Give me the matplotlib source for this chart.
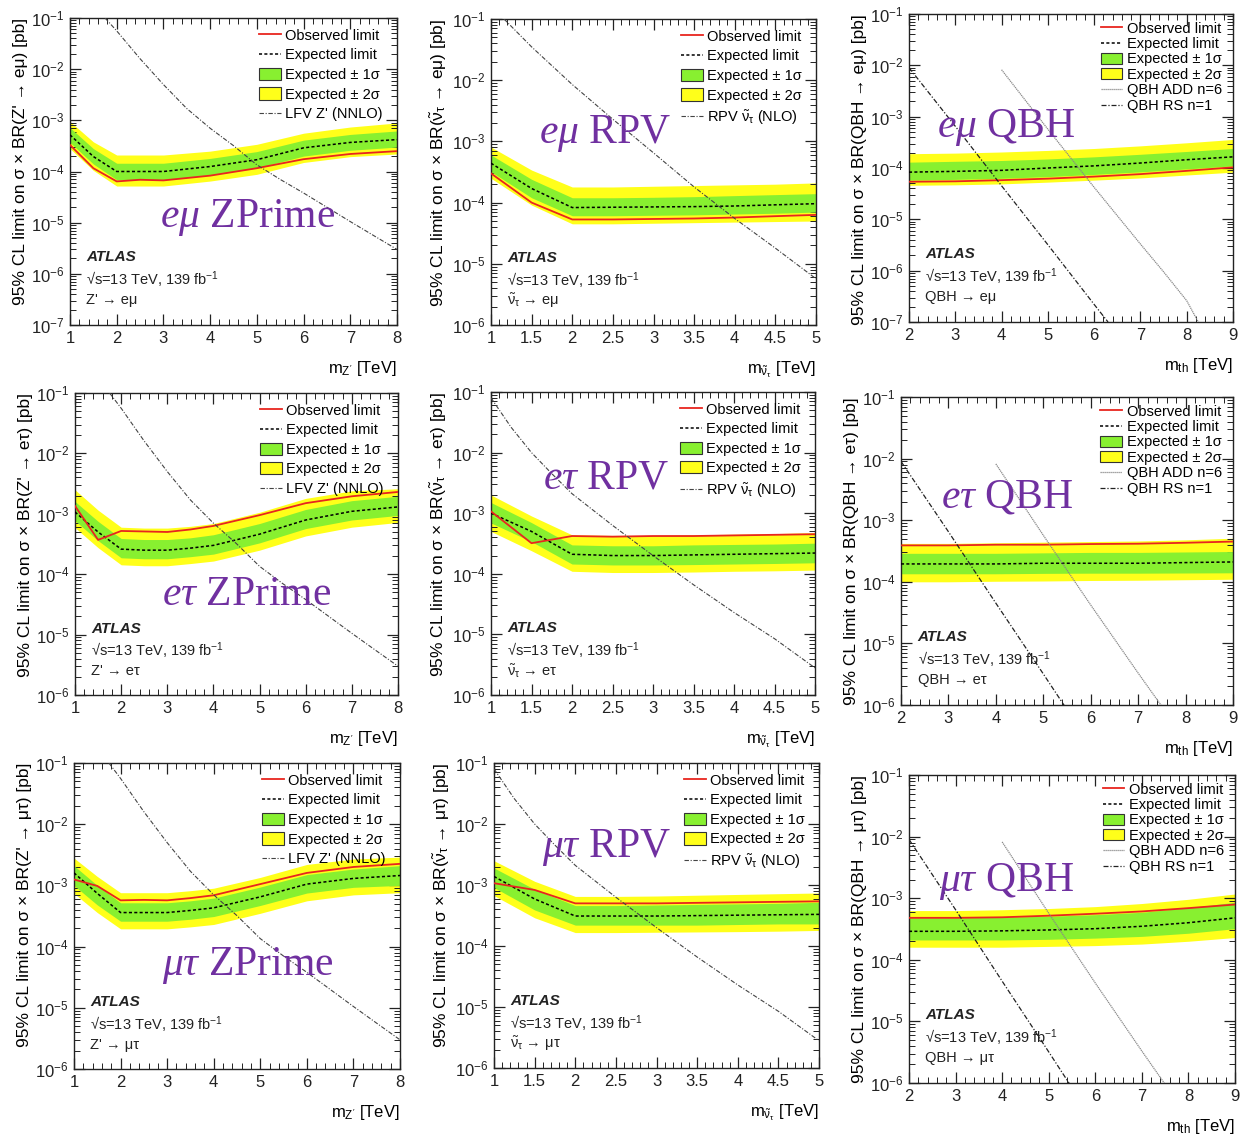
import numpy as np
import matplotlib
matplotlib.use('Agg')
import matplotlib.pyplot as plt
from matplotlib.lines import Line2D
from matplotlib.patches import Patch
from matplotlib.ticker import LogLocator, MultipleLocator, NullFormatter

plt.rcParams['font.family'] = ['Liberation Sans', 'DejaVu Sans']
plt.rcParams['mathtext.fontset'] = 'custom'
plt.rcParams['mathtext.rm'] = 'Liberation Sans'
plt.rcParams['mathtext.it'] = 'Liberation Serif:italic'
plt.rcParams['mathtext.bf'] = 'Liberation Sans:bold'

# ---------------- data ----------------
# theory curves
lfv_x = [1.75, 2, 2.5, 3, 3.5, 4, 4.5, 5, 5.5, 6, 6.5, 7, 7.5, 8]
lfv_y = [1.0e-1, 5.6e-2, 1.6e-2, 5.0e-3, 1.7e-3, 7.0e-4, 3.2e-4, 1.35e-4, 7.0e-5, 3.8e-5, 2.0e-5, 1.05e-5, 5.6e-6, 3.0e-6]

rpv_em_x = [1.16, 1.5, 2, 2.5, 3, 3.5, 4, 4.5, 5]
rpv_em_y = [1e-1, 3.5e-2, 8.5e-3, 2.3e-3, 6.5e-4, 1.8e-4, 5.5e-5, 1.8e-5, 5.7e-6]
rpv_tau_x = [1, 1.25, 1.5, 1.75, 2, 2.5, 3, 3.5, 4, 4.5, 5]
rpv_tau_y = [8e-2, 2.6e-2, 1.0e-2, 4.5e-3, 2.1e-3, 6.3e-4, 2.0e-4, 6.6e-5, 2.3e-5, 8.5e-6, 2.8e-6]

qbh_rs_x = [2, 3, 4, 5, 6, 6.3]
qbh_rs_y = [9e-3, 6.5e-4, 4.5e-5, 3.2e-6, 2.2e-7, 1e-7]
qbh_add_x = [4, 5, 6, 7, 7.5, 8, 8.25]
qbh_add_y = [8.2e-3, 5.7e-4, 4.2e-5, 3.3e-6, 9.5e-7, 2.6e-7, 1e-7]

# e-mu Z'
zp_em_x = [1, 1.5, 2, 2.5, 3, 4, 5, 6, 7, 8]
zp_em_obs = [3.3e-4, 1.16e-4, 6.4e-5, 6.9e-5, 6.7e-5, 8.3e-5, 1.16e-4, 1.74e-4, 2.2e-4, 2.5e-4]
zp_em_exp = [5.2e-4, 1.96e-4, 1.0e-4, 1.0e-4, 1.0e-4, 1.25e-4, 1.7e-4, 2.9e-4, 3.7e-4, 4.2e-4]
zp_em_p2 = [9.5e-4, 3.8e-4, 2.1e-4, 2.1e-4, 2.1e-4, 2.5e-4, 3.4e-4, 5.6e-4, 7.4e-4, 8.9e-4]
zp_em_p1 = [7.2e-4, 2.8e-4, 1.45e-4, 1.45e-4, 1.45e-4, 1.8e-4, 2.45e-4, 4.1e-4, 5.3e-4, 6.2e-4]
zp_em_m1 = [3.7e-4, 1.4e-4, 6.9e-5, 6.9e-5, 6.9e-5, 8.6e-5, 1.17e-4, 2.0e-4, 2.6e-4, 3.0e-4]
zp_em_m2 = [2.8e-4, 1.05e-4, 5.2e-5, 5.2e-5, 5.2e-5, 6.5e-5, 8.8e-5, 1.5e-4, 1.95e-4, 2.2e-4]

# e-mu RPV
rpv_em_mx = [1, 1.5, 2, 2.5, 3, 3.5, 4, 4.5, 5]
rpv_em_obs = [3.0e-4, 1.0e-4, 5.3e-5, 5.3e-5, 5.4e-5, 5.5e-5, 5.7e-5, 6.0e-5, 6.3e-5]
rpv_em_exp = [4.4e-4, 1.7e-4, 8.3e-5, 8.4e-5, 8.5e-5, 8.6e-5, 8.8e-5, 9.2e-5, 9.6e-5]
rpv_em_p2 = [8.1e-4, 3.4e-4, 1.8e-4, 1.8e-4, 1.85e-4, 1.9e-4, 1.95e-4, 2.0e-4, 2.1e-4]
rpv_em_p1 = [6.0e-4, 2.4e-4, 1.2e-4, 1.2e-4, 1.22e-4, 1.25e-4, 1.3e-4, 1.35e-4, 1.4e-4]
rpv_em_m1 = [3.2e-4, 1.2e-4, 6.1e-5, 6.1e-5, 6.2e-5, 6.3e-5, 6.5e-5, 6.7e-5, 7.0e-5]
rpv_em_m2 = [2.5e-4, 9.1e-5, 4.5e-5, 4.5e-5, 4.6e-5, 4.7e-5, 4.8e-5, 4.9e-5, 5.0e-5]

# e-mu QBH
qbh_em_x = [2, 3, 4, 5, 6, 7, 8, 9]
qbh_em_obs = [5.4e-5, 5.5e-5, 5.8e-5, 6.2e-5, 6.8e-5, 7.6e-5, 8.8e-5, 1.03e-4]
qbh_em_exp = [8.3e-5, 8.6e-5, 9.0e-5, 1.0e-4, 1.1e-4, 1.25e-4, 1.45e-4, 1.65e-4]
qbh_em_p2 = [1.9e-4, 1.95e-4, 2.05e-4, 2.2e-4, 2.4e-4, 2.7e-4, 3.1e-4, 3.6e-4]
qbh_em_p1 = [1.3e-4, 1.35e-4, 1.4e-4, 1.5e-4, 1.65e-4, 1.85e-4, 2.1e-4, 2.4e-4]
qbh_em_m1 = [5.8e-5, 6.0e-5, 6.3e-5, 6.8e-5, 7.5e-5, 8.4e-5, 9.6e-5, 1.1e-4]
qbh_em_m2 = [4.6e-5, 4.7e-5, 4.9e-5, 5.3e-5, 5.8e-5, 6.4e-5, 7.3e-5, 8.3e-5]

# e-tau Z'
zp_et_x = [1, 1.5, 2, 2.5, 3, 3.5, 4, 5, 6, 7, 8]
zp_et_obs = [1.35e-3, 3.7e-4, 5.2e-4, 5.1e-4, 5.0e-4, 5.5e-4, 6.3e-4, 9.5e-4, 1.5e-3, 1.95e-3, 2.3e-3]
zp_et_exp = [1.07e-3, 5.0e-4, 2.6e-4, 2.5e-4, 2.5e-4, 2.7e-4, 3.0e-4, 4.6e-4, 7.9e-4, 1.1e-3, 1.3e-3]
zp_et_p2 = [2.5e-3, 1.15e-3, 6.0e-4, 5.8e-4, 5.8e-4, 6.2e-4, 6.9e-4, 1.06e-3, 1.8e-3, 2.4e-3, 2.6e-3]
zp_et_p1 = [1.6e-3, 7.5e-4, 3.9e-4, 3.75e-4, 3.75e-4, 4.0e-4, 4.5e-4, 6.9e-4, 1.18e-3, 1.65e-3, 1.95e-3]
zp_et_m1 = [7.7e-4, 3.6e-4, 1.87e-4, 1.8e-4, 1.8e-4, 1.95e-4, 2.15e-4, 3.3e-4, 5.7e-4, 7.9e-4, 9.4e-4]
zp_et_m2 = [5.9e-4, 2.75e-4, 1.43e-4, 1.38e-4, 1.38e-4, 1.5e-4, 1.65e-4, 2.5e-4, 4.3e-4, 6.0e-4, 7.2e-4]

# e-tau RPV
rpv_et_x = [1, 1.5, 2, 2.5, 3, 3.5, 4, 4.5, 5]
rpv_et_obs = [1.07e-3, 3.2e-4, 4.2e-4, 4.1e-4, 4.2e-4, 4.2e-4, 4.3e-4, 4.4e-4, 4.5e-4]
rpv_et_exp = [1.0e-3, 5.0e-4, 2.1e-4, 2.0e-4, 2.0e-4, 2.05e-4, 2.1e-4, 2.15e-4, 2.2e-4]
rpv_et_p2 = [2.0e-3, 9.0e-4, 4.4e-4, 4.3e-4, 4.3e-4, 4.4e-4, 4.5e-4, 4.6e-4, 4.8e-4]
rpv_et_p1 = [1.5e-3, 7.0e-4, 3.0e-4, 2.9e-4, 2.9e-4, 3.0e-4, 3.05e-4, 3.1e-4, 3.2e-4]
rpv_et_m1 = [6.9e-4, 3.4e-4, 1.45e-4, 1.4e-4, 1.4e-4, 1.42e-4, 1.45e-4, 1.48e-4, 1.52e-4]
rpv_et_m2 = [5.0e-4, 2.4e-4, 1.1e-4, 1.05e-4, 1.05e-4, 1.07e-4, 1.1e-4, 1.12e-4, 1.15e-4]

# e-tau QBH
qbh_et_x = [2, 3, 4, 5, 6, 7, 8, 9]
qbh_et_obs = [3.9e-4, 3.9e-4, 4.0e-4, 4.0e-4, 4.1e-4, 4.15e-4, 4.3e-4, 4.5e-4]
qbh_et_exp = [1.95e-4, 1.95e-4, 1.95e-4, 2.0e-4, 2.0e-4, 2.0e-4, 2.05e-4, 2.1e-4]
qbh_et_p2 = [4.2e-4, 4.2e-4, 4.3e-4, 4.4e-4, 4.5e-4, 4.6e-4, 4.8e-4, 5.1e-4]
qbh_et_p1 = [2.9e-4, 2.9e-4, 2.9e-4, 2.95e-4, 3.0e-4, 3.0e-4, 3.05e-4, 3.1e-4]
qbh_et_m1 = [1.35e-4, 1.35e-4, 1.35e-4, 1.37e-4, 1.38e-4, 1.38e-4, 1.39e-4, 1.4e-4]
qbh_et_m2 = [1.0e-4, 1.0e-4, 1.02e-4, 1.03e-4, 1.05e-4, 1.06e-4, 1.08e-4, 1.1e-4]

# mu-tau Z'
zp_mt_x = [1, 1.5, 2, 2.5, 3, 3.5, 4, 5, 6, 7, 8]
zp_mt_obs = [1.25e-3, 9.8e-4, 5.7e-4, 5.8e-4, 5.7e-4, 6.2e-4, 6.9e-4, 1.05e-3, 1.6e-3, 2.0e-3, 2.25e-3]
zp_mt_exp = [1.6e-3, 7.4e-4, 3.6e-4, 3.6e-4, 3.6e-4, 3.9e-4, 4.3e-4, 6.5e-4, 1.05e-3, 1.3e-3, 1.45e-3]
zp_mt_p2 = [2.8e-3, 1.4e-3, 7.6e-4, 7.6e-4, 7.6e-4, 8.2e-4, 9.0e-4, 1.35e-3, 2.2e-3, 2.7e-3, 2.9e-3]
zp_mt_p1 = [2.1e-3, 1.0e-3, 5.2e-4, 5.2e-4, 5.2e-4, 5.6e-4, 6.2e-4, 9.4e-4, 1.5e-3, 1.85e-3, 2.1e-3]
zp_mt_m1 = [1.0e-3, 4.8e-4, 2.6e-4, 2.6e-4, 2.6e-4, 2.8e-4, 3.1e-4, 4.7e-4, 7.5e-4, 9.3e-4, 1.0e-3]
zp_mt_m2 = [7.4e-4, 3.6e-4, 1.95e-4, 1.95e-4, 1.95e-4, 2.1e-4, 2.3e-4, 3.5e-4, 5.6e-4, 7.0e-4, 7.6e-4]

# mu-tau RPV
rpv_mt_x = [1, 1.5, 2, 2.5, 3, 3.5, 4, 4.5, 5]
rpv_mt_obs = [1.07e-3, 8.3e-4, 5.0e-4, 5.0e-4, 5.0e-4, 5.1e-4, 5.2e-4, 5.3e-4, 5.4e-4]
rpv_mt_exp = [1.38e-3, 5.9e-4, 3.1e-4, 3.1e-4, 3.1e-4, 3.15e-4, 3.2e-4, 3.25e-4, 3.3e-4]
rpv_mt_p2 = [2.5e-3, 1.15e-3, 6.5e-4, 6.5e-4, 6.6e-4, 6.8e-4, 7.0e-4, 7.2e-4, 7.4e-4]
rpv_mt_p1 = [1.9e-3, 8.5e-4, 4.6e-4, 4.6e-4, 4.7e-4, 4.8e-4, 4.9e-4, 5.0e-4, 5.2e-4]
rpv_mt_m1 = [9.1e-4, 3.9e-4, 2.2e-4, 2.2e-4, 2.2e-4, 2.2e-4, 2.25e-4, 2.3e-4, 2.3e-4]
rpv_mt_m2 = [6.7e-4, 2.9e-4, 1.66e-4, 1.66e-4, 1.68e-4, 1.7e-4, 1.72e-4, 1.75e-4, 1.8e-4]

# mu-tau QBH
qbh_mt_x = [2, 3, 4, 5, 6, 7, 8, 9]
qbh_mt_obs = [4.8e-4, 4.8e-4, 4.9e-4, 5.2e-4, 5.6e-4, 6.1e-4, 6.9e-4, 7.9e-4]
qbh_mt_exp = [2.9e-4, 2.9e-4, 2.95e-4, 3.05e-4, 3.2e-4, 3.5e-4, 4.0e-4, 4.8e-4]
qbh_mt_p2 = [6.3e-4, 6.3e-4, 6.5e-4, 6.8e-4, 7.3e-4, 8.2e-4, 9.6e-4, 1.17e-3]
qbh_mt_p1 = [4.8e-4, 4.8e-4, 4.9e-4, 5.1e-4, 5.4e-4, 5.9e-4, 7.0e-4, 8.6e-4]
qbh_mt_m1 = [2.1e-4, 2.1e-4, 2.1e-4, 2.15e-4, 2.25e-4, 2.4e-4, 2.7e-4, 3.2e-4]
qbh_mt_m2 = [1.6e-4, 1.6e-4, 1.6e-4, 1.65e-4, 1.7e-4, 1.8e-4, 2.0e-4, 2.3e-4]

# ---------------- styling ----------------
W, H = 1242, 1139
RED = '#e8251f'
GREEN = '#88f030'
YELLOW = '#ffff1a'
PURPLE = '#7030a0'
DASHDOT = (0, (4, 1.5, 1, 1.5))

NU = r'$\tilde{\mathrm{\nu}}_{\mathrm{\tau}}$'
ylab = '95% CL limit on σ × BR({}) [pb]'

panels = [
    dict(rect=(70, 18, 397, 325), data=(zp_em_x, zp_em_obs, zp_em_exp, zp_em_m2, zp_em_m1, zp_em_p1, zp_em_p2),
         xlim=(1, 8), ylim=(1e-7, 1e-1), kind='zp', chan="Z' → eμ", br="Z' → eμ",
         tag=(r'$e\mu$ ZPrime', 248, 217)),
    dict(rect=(491, 19, 816, 325), data=(rpv_em_mx, rpv_em_obs, rpv_em_exp, rpv_em_m2, rpv_em_m1, rpv_em_p1, rpv_em_p2),
         xlim=(1, 5), ylim=(1e-6, 1e-1), kind='rpv_em', chan=NU + ' → eμ', br=NU + ' → eμ',
         tag=(r'$e\mu$ RPV', 605, 133)),
    dict(rect=(909, 14, 1233, 322), data=(qbh_em_x, qbh_em_obs, qbh_em_exp, qbh_em_m2, qbh_em_m1, qbh_em_p1, qbh_em_p2),
         xlim=(2, 9), ylim=(1e-7, 1e-1), kind='qbh', chan='QBH → eμ', br='QBH → eμ',
         tag=(r'$e\mu$ QBH', 1006, 128)),
    dict(rect=(75, 393, 398, 695), data=(zp_et_x, zp_et_obs, zp_et_exp, zp_et_m2, zp_et_m1, zp_et_p1, zp_et_p2),
         xlim=(1, 8), ylim=(1e-6, 1e-1), kind='zp', chan="Z' → eτ", br="Z' → eτ",
         tag=(r'$e\tau$ ZPrime', 247, 595)),
    dict(rect=(491, 392, 815, 695), data=(rpv_et_x, rpv_et_obs, rpv_et_exp, rpv_et_m2, rpv_et_m1, rpv_et_p1, rpv_et_p2),
         xlim=(1, 5), ylim=(1e-6, 1e-1), kind='rpv_tau', chan=NU + ' → eτ', br=NU + ' → eτ',
         tag=(r'$e\tau$ RPV', 606, 478)),
    dict(rect=(901, 397, 1233, 705), data=(qbh_et_x, qbh_et_obs, qbh_et_exp, qbh_et_m2, qbh_et_m1, qbh_et_p1, qbh_et_p2),
         xlim=(2, 9), ylim=(1e-6, 1e-1), kind='qbh', chan='QBH → eτ', br='QBH → eτ',
         tag=(r'$e\tau$ QBH', 1007, 497)),
    dict(rect=(74, 763, 400, 1069), data=(zp_mt_x, zp_mt_obs, zp_mt_exp, zp_mt_m2, zp_mt_m1, zp_mt_p1, zp_mt_p2),
         xlim=(1, 8), ylim=(1e-6, 1e-1), kind='zp', chan="Z' → μτ", br="Z' → μτ",
         tag=(r'$\mu\tau$ ZPrime', 248, 965)),
    dict(rect=(494, 763, 819, 1068), data=(rpv_mt_x, rpv_mt_obs, rpv_mt_exp, rpv_mt_m2, rpv_mt_m1, rpv_mt_p1, rpv_mt_p2),
         xlim=(1, 5), ylim=(1e-6, 1e-1), kind='rpv_tau', chan=NU + ' → μτ', br=NU + ' → μτ',
         tag=(r'$\mu\tau$ RPV', 606, 847)),
    dict(rect=(909, 775, 1235, 1083), data=(qbh_mt_x, qbh_mt_obs, qbh_mt_exp, qbh_mt_m2, qbh_mt_m1, qbh_mt_p1, qbh_mt_p2),
         xlim=(2, 9), ylim=(1e-6, 1e-1), kind='qbh', chan='QBH → μτ', br='QBH → μτ',
         tag=(r'$\mu\tau$ QBH', 1006, 882)),
]

xlabels = {'zp': r"m$_{\mathrm{Z'}}$ [TeV]", 'rpv_em': 'm$_{' + NU.strip('$') + '}$ [TeV]',
           'rpv_tau': 'm$_{' + NU.strip('$') + '}$ [TeV]', 'qbh': r'm$_{\mathrm{th}}$ [TeV]'}

fig = plt.figure(figsize=(W / 100, H / 100), dpi=100)

for p in panels:
    l, t, r, b = p['rect']
    ax = fig.add_axes([l / W, 1 - b / H, (r - l) / W, (b - t) / H])
    x, obs, exp_, m2, m1, p1, p2 = p['data']
    ax.fill_between(x, m2, p2, color=YELLOW, lw=0, zorder=1)
    ax.fill_between(x, m1, p1, color=GREEN, lw=0, zorder=2)
    ax.plot(x, exp_, color='black', ls=(0, (2, 1.5)), lw=1.1, zorder=3)
    ax.plot(x, obs, color=RED, lw=1.3, zorder=4)

    kind = p['kind']
    handles = [Line2D([], [], color=RED, lw=1.3),
               Line2D([], [], color='black', ls=(0, (2, 1.5)), lw=1.1),
               Patch(facecolor=GREEN, edgecolor='#333333', lw=0.8),
               Patch(facecolor=YELLOW, edgecolor='#333333', lw=0.8)]
    labels = ['Observed limit', 'Expected limit', 'Expected ± 1σ', 'Expected ± 2σ']
    if kind == 'zp':
        ax.plot(lfv_x, lfv_y, color='#444444', ls=DASHDOT, lw=0.8, zorder=5)
        handles.append(Line2D([], [], color='#444444', ls=DASHDOT, lw=0.8))
        labels.append("LFV Z' (NNLO)")
    elif kind.startswith('rpv'):
        tx, ty = (rpv_em_x, rpv_em_y) if kind == 'rpv_em' else (rpv_tau_x, rpv_tau_y)
        ax.plot(tx, ty, color='#444444', ls=DASHDOT, lw=0.8, zorder=5)
        handles.append(Line2D([], [], color='#444444', ls=DASHDOT, lw=0.8))
        labels.append('RPV ' + NU + ' (NLO)')
    else:
        ax.plot(qbh_add_x, qbh_add_y, color='#888888', ls=(0, (1, 0.6)), lw=0.9, zorder=5)
        ax.plot(qbh_rs_x, qbh_rs_y, color='#222222', ls=DASHDOT, lw=0.9, zorder=5)
        handles.append(Line2D([], [], color='#888888', ls=(0, (1, 0.6)), lw=0.9))
        handles.append(Line2D([], [], color='#222222', ls=DASHDOT, lw=0.9))
        labels += ['QBH ADD n=6', 'QBH RS n=1']

    ax.set_yscale('log')
    ax.set_xlim(*p['xlim'])
    ax.set_ylim(*p['ylim'])
    ax.yaxis.set_major_locator(LogLocator(base=10, numticks=12))
    ax.yaxis.set_minor_locator(LogLocator(base=10, subs=np.arange(2, 10), numticks=12))
    ax.yaxis.set_minor_formatter(NullFormatter())
    ax.xaxis.set_major_locator(MultipleLocator(0.5 if kind.startswith('rpv') else 1))
    ax.xaxis.set_minor_locator(MultipleLocator(0.1 if kind.startswith('rpv') else 0.2))
    ax.tick_params(which='both', direction='in', top=True, right=True, labelsize=12, colors='#222222', pad=4)
    ax.tick_params(which='major', length=8, width=0.9)
    ax.tick_params(which='minor', length=4, width=0.7)
    for s in ax.spines.values():
        s.set_linewidth(1.0)
        s.set_color('#222222')
    if kind.startswith('rpv'):
        ax.set_xticks([1, 1.5, 2, 2.5, 3, 3.5, 4, 4.5, 5])
        ax.set_xticklabels(['1', '1.5', '2', '2.5', '3', '3.5', '4', '4.5', '5'])

    ax.set_xlabel(xlabels[kind], loc='right', fontsize=12, labelpad=10)
    ax.set_ylabel(ylab.format(p['br']), loc='top', fontsize=12.5, labelpad=2)

    if kind == 'qbh':
        leg_kw = dict(bbox_to_anchor=(0.975, 0.985), labelspacing=0.1, handleheight=0.8)
    else:
        leg_kw = dict(bbox_to_anchor=(0.965, 0.975), labelspacing=0.38, handleheight=0.9)
    leg = ax.legend(handles, labels, loc='upper right', frameon=False, fontsize=10.5,
                    handlelength=1.5, handletextpad=0.3, borderaxespad=0, borderpad=0.2, **leg_kw)
    leg.set_zorder(10)

    ax.text(0.05, 0.22, 'ATLAS', transform=ax.transAxes, fontsize=11, weight='bold', style='italic',
            va='center', color='#222222')
    ax.text(0.05, 0.15, '√s=13 TeV, 139 fb$^{-1}$', transform=ax.transAxes, fontsize=10.5,
            va='center', color='#222222')
    ax.text(0.05, 0.08, p['chan'], transform=ax.transAxes, fontsize=10.5, va='center', color='#222222')

    tag, tx_, ty_ = p['tag']
    fig.text(tx_ / W, 1 - ty_ / H, tag, fontsize=30, color=PURPLE, family='Liberation Serif',
             ha='center', va='center', zorder=20)

fig.savefig('out.png', dpi=100)
